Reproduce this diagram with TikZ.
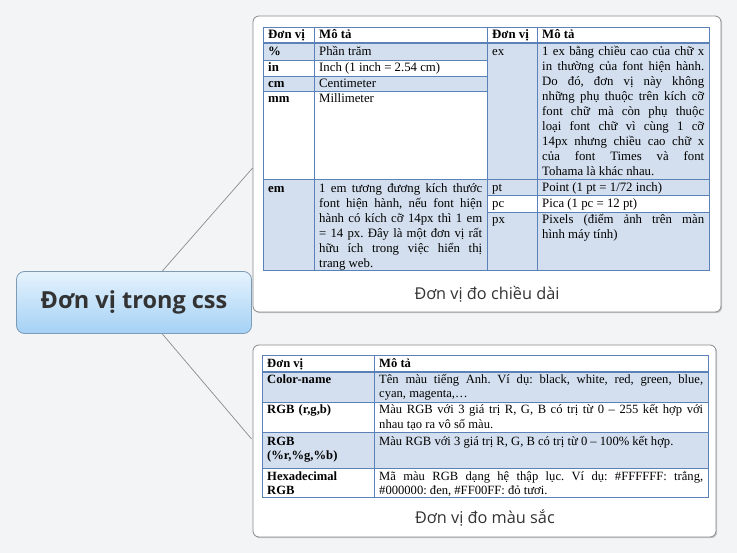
\documentclass[tikz,border=0pt]{standalone}
\usepackage{fontspec}
\setmainfont{Liberation Serif}
\newfontfamily\uisans{Open Sans}
\usetikzlibrary{calc,shadows}
\frenchspacing
\definecolor{bgc}{HTML}{F3F4F6}
\definecolor{cellblue}{HTML}{D3DFEE}
\definecolor{gridblue}{HTML}{5A82B8}
\definecolor{cardline}{HTML}{8A8A8A}
\definecolor{nodetop}{HTML}{E6F3FD}
\definecolor{nodebot}{HTML}{A4D1F5}
\definecolor{nodeline}{HTML}{7E9BB5}
\definecolor{txt}{HTML}{333333}
\definecolor{connc}{HTML}{8C8C8C}
\tikzset{
  card/.style={draw=cardline, line width=0.8pt, fill=white, rounded corners=6pt, inner sep=0pt,
    drop shadow={shadow xshift=1.2pt, shadow yshift=-1.2pt, opacity=0.18, fill=black}},
  centralbox/.style={draw=nodeline, line width=0.8pt, rounded corners=8pt, top color=nodetop, bottom color=nodebot,
    minimum width=235pt, minimum height=62pt, inner sep=0pt, text=txt, font=\uisans\bfseries\fontsize{23.5}{28}\selectfont},
  caption/.style={inner sep=0pt, text=txt, font=\uisans\fontsize{16.3}{20}\selectfont},
  conn/.style={draw=connc, line width=0.7pt},
  gridl/.style={draw=gridblue, line width=0.6pt},
  gridthick/.style={draw=gridblue, line width=1.4pt},
  cellt/.style={anchor=base west, inner sep=0pt, align=justify, text width=#1, font=\fontsize{12.8}{15}\selectfont},
  cellb/.style={anchor=base west, inner sep=0pt, align=justify, text width=#1, font=\fontsize{12.6}{14}\selectfont},
}
\begin{document}
\begin{tikzpicture}[x=1pt,y=-1pt]
\useasboundingbox (0,0) rectangle (737,553);
\fill[bgc] (0,0) rectangle (737,553);

% cards
\node[card, minimum width=468pt, minimum height=296pt] (topcard) at (487,164) {};
\node[card, minimum width=463pt, minimum height=192pt] (botcard) at (484.5,441) {};

% central node
\node[centralbox] (central) at (134,302.5) {Đơn vị trong css};

% connectors
\draw[conn] ($(central.north west)!0.62!(central.north east)$) -- ($(topcard.west)+(0,4)$);
\draw[conn] ($(central.south west)!0.62!(central.south east)$) -- ($(botcard.west)+(-1,-2)$);

% ---------- top table ----------
\fill[cellblue] (263,43) rectangle (487,60);
\fill[cellblue] (263,76) rectangle (487,91);
\fill[cellblue] (263,179) rectangle (487,270);
\fill[cellblue] (487,43) rectangle (709,195);
\fill[cellblue] (487,212) rectangle (709,270);
\draw[gridl] (263,27) rectangle (709,270);
\draw[gridl] (263,60) -- (487,60) (263,76) -- (487,76) (263,91) -- (487,91) (263,179) -- (487,179);
\draw[gridl] (487,179) -- (709,179) (487,195) -- (709,195) (487,212) -- (709,212);
\draw[gridl] (314,27) -- (314,270) (487,27) -- (487,270) (537,27) -- (537,270);
\draw[gridthick] (263,43) -- (709,43);

\node[cellt=45pt] (h1) at (268,39) {\textbf{Đơn vị}};
\node[cellt=160pt] (h2) at (319,39) {\textbf{Mô tả}};
\node[cellt=45pt] (h3) at (492,39) {\textbf{Đơn vị}};
\node[cellt=160pt] (h4) at (542,39) {\textbf{Mô tả}};

\node[cellt=41pt] (u1) at (268,55.5) {\textbf{\%}};
\node[cellt=163pt] (d1) at (319,55.5) {Phần trăm};
\node[cellt=41pt] (u2) at (268,72) {\textbf{in}};
\node[cellt=163pt] (d2) at (319,72) {Inch (1 inch = 2.54 cm)};
\node[cellt=41pt] (u3) at (268,87.5) {\textbf{cm}};
\node[cellt=163pt] (d3) at (319,87.5) {Centimeter};
\node[cellt=41pt] (u4) at (268,103) {\textbf{mm}};
\node[cellt=163pt] (d4) at (319,103) {Millimeter};
\node[cellt=41pt] (u5) at (268,193) {\textbf{em}};
\node[cellt=163pt] (d5) at (319,193) {1 em tương đương kích thước\linebreak font hiện hành, nếu font hiện\linebreak hành có kích cỡ 14px thì 1 em\linebreak = 14 px. Đây là một đơn vị rất\linebreak hữu ích trong việc hiển thị\linebreak trang web.};

\node[cellt=40pt] (u6) at (492,56) {ex};
\node[cellt=162pt] (d6) at (542,56) {1 ex bằng chiều cao của chữ x\linebreak in thường của font hiện hành.\linebreak Do đó, đơn vị này không\linebreak những phụ thuộc trên kích cỡ\linebreak font chữ mà còn phụ thuộc\linebreak loại font chữ vì cùng 1 cỡ\linebreak 14px nhưng chiều cao chữ x\linebreak của font Times và font\linebreak Tohama là khác nhau.};
\node[cellt=40pt] (u7) at (492,191.5) {pt};
\node[cellt=162pt] (d7) at (542,191.5) {Point (1 pt = 1/72 inch)};
\node[cellt=40pt] (u8) at (492,207.5) {pc};
\node[cellt=162pt] (d8) at (542,207.5) {Pica (1 pc = 12 pt)};
\node[cellt=40pt] (u9) at (492,224) {px};
\node[cellt=162pt] (d9) at (542,224) {Pixels (điểm ảnh trên màn\linebreak hình máy tính)};

\node[caption] (cap1) at (487,294) {Đơn vị đo chiều dài};

% ---------- bottom table ----------
\fill[cellblue] (262,372) rectangle (708,402);
\fill[cellblue] (262,432) rectangle (708,468);
\draw[gridl] (262,355) rectangle (708,497);
\draw[gridl] (262,402) -- (708,402) (262,432) -- (708,432) (262,468) -- (708,468);
\draw[gridl] (374,355) -- (374,497);
\draw[gridthick] (262,372) -- (708,372);

\node[cellb=100pt] (bh1) at (267,367.5) {\textbf{Đơn vị}};
\node[cellb=324pt] (bh2) at (379,367.5) {\textbf{Mô tả}};
\node[cellb=104pt, align=left] (bu1) at (267,384) {\textbf{Color-name}};
\node[cellb=324pt] (bd1) at (379,384) {Tên màu tiếng Anh. Ví dụ: black, white, red, green, blue,\linebreak cyan, magenta,…};
\node[cellb=104pt, align=left] (bu2) at (267,414) {\textbf{RGB (r,g,b)}};
\node[cellb=324pt] (bd2) at (379,414) {Màu RGB với 3 giá trị R, G, B có trị từ 0 – 255 kết hợp với\linebreak nhau tạo ra vô số màu.};
\node[cellb=104pt, align=left] (bu3) at (267,446) {\textbf{RGB}\\\textbf{(\%r,\%g,\%b)}};
\node[cellb=324pt] (bd3) at (379,446) {Màu RGB với 3 giá trị R, G, B có trị từ 0 – 100\% kết hợp.};
\node[cellb=104pt, align=left] (bu4) at (267,480) {\textbf{Hexadecimal}\\\textbf{RGB}};
\node[cellb=324pt] (bd4) at (379,480) {Mã màu RGB dạng hệ thập lục. Ví dụ: \#FFFFFF: trắng,\linebreak \#000000: đen, \#FF00FF: đỏ tươi.};

\node[caption] (cap2) at (485,518) {Đơn vị đo màu sắc};
\end{tikzpicture}
\end{document}
